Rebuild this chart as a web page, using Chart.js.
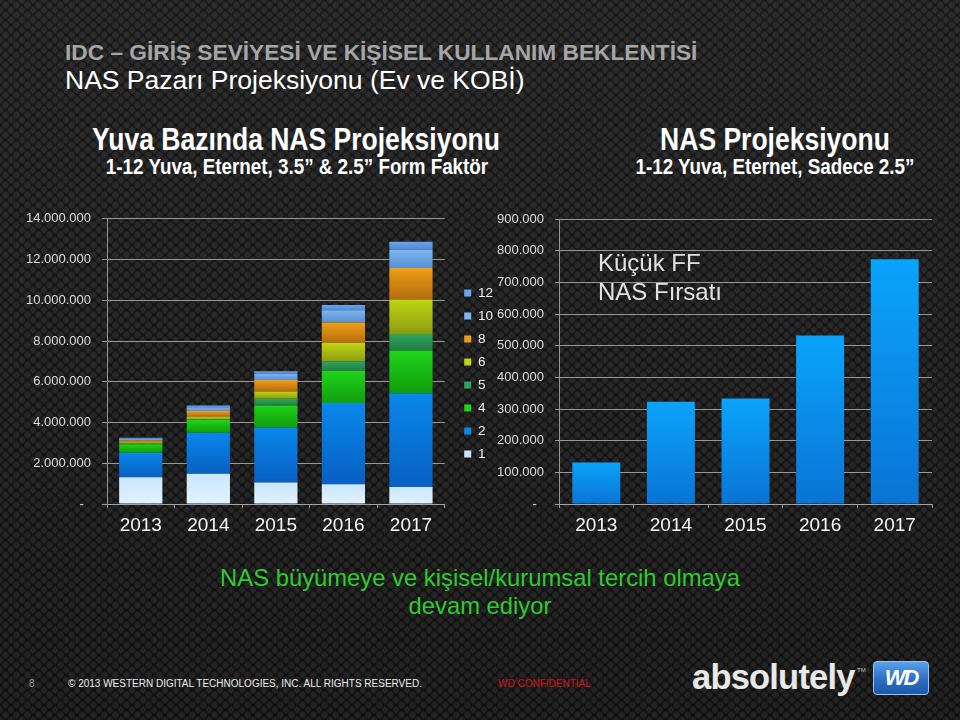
<!DOCTYPE html>
<html><head><meta charset="utf-8">
<script src="https://cdn.jsdelivr.net/npm/chart.js@4.4.1/dist/chart.umd.min.js"></script>
<style>
html,body{margin:0;padding:0;}
body{width:960px;height:720px;position:relative;overflow:hidden;
 background-color:#1e1e1e;
 background-image:
  linear-gradient(180deg, rgba(255,255,255,0.03), rgba(0,0,0,0.08)),
  radial-gradient(circle at 50% 50%, rgba(255,255,255,0.04) 0 3px, rgba(0,0,0,0.25) 4px 5px, transparent 5.5px),
  radial-gradient(circle at 50% 50%, rgba(255,255,255,0.04) 0 3px, rgba(0,0,0,0.25) 4px 5px, transparent 5.5px);
 background-size: 960px 720px, 11px 10px, 11px 10px;
 background-position: 0 0, 0 0, 5.5px 5px;
 font-family:'Liberation Sans', Arial, sans-serif;}
.t{position:absolute;white-space:nowrap;line-height:1;}
.c{transform:translateX(-50%);text-align:center;}
.n{transform:translateX(-50%) scaleX(0.855);transform-origin:50% 50%;text-align:center;font-weight:bold;color:#ffffff;}
canvas{position:absolute;}
</style></head><body>
<div class="t" style="left:65px;top:41px;font-weight:bold;font-size:22.7px;color:#a6a6a6;">IDC – GİRİŞ SEVİYESİ VE KİŞİSEL KULLANIM BEKLENTİSİ</div>
<div class="t" style="left:65px;top:67px;font-size:26.5px;color:#ffffff;">NAS Pazarı Projeksiyonu (Ev ve KOBİ)</div>

<div class="t n" style="left:296px;top:124px;font-size:31px;">Yuva Bazında NAS Projeksiyonu</div>
<div class="t n" style="left:297px;top:156px;font-size:22px;">1-12 Yuva, Eternet, 3.5” &amp; 2.5” Form Faktör</div>
<div class="t n" style="left:775px;top:124px;font-size:31px;">NAS Projeksiyonu</div>
<div class="t n" style="left:775px;top:156px;font-size:22px;">1-12 Yuva, Eternet, Sadece 2.5”</div>

<canvas id="left" width="503" height="342" style="left:0px;top:200px;width:503px;height:342px;"></canvas>
<canvas id="right" width="490" height="342" style="left:460px;top:200px;width:490px;height:342px;"></canvas>

<div class="t" style="left:598px;top:248px;font-size:24px;line-height:29px;color:#e2e2e2;">Küçük FF<br>NAS Fırsatı</div>

<div class="t c" style="left:480px;top:564px;font-size:23.8px;line-height:28px;color:#2fcb2f;">NAS büyümeye ve kişisel/kurumsal tercih olmaya<br>devam ediyor</div>

<div class="t" style="left:29px;top:679px;font-size:10px;color:#9a9a9a;">8</div>
<div class="t" style="left:68px;top:679px;font-size:10px;color:#ececec;">© 2013 WESTERN DIGITAL TECHNOLOGIES, INC. ALL RIGHTS RESERVED.</div>
<div class="t" style="left:498px;top:679px;font-size:10px;color:#d21414;">WD CONFIDENTIAL</div>
<div class="t" style="left:692px;top:660px;font-weight:bold;font-size:34.5px;letter-spacing:-0.8px;color:#e8e8e8;">absolutely</div>
<div class="t" style="left:857px;top:667px;font-size:6px;color:#cccccc;">TM</div>
<div style="position:absolute;left:873px;top:661px;width:56px;height:34px;border-radius:4px;border:1px solid #9cc4f0;background:linear-gradient(180deg,#5aa0ea,#2c6fc4 55%,#1d58a8);box-sizing:border-box;color:#fff;font:italic bold 22px 'Liberation Sans',Arial;text-align:center;line-height:32px;letter-spacing:-2px;">WD</div>

<script>
// ---- data ----
const years = ['2013', '2014', '2015', '2016', '2017'];
const bayLabels = ['1', '2', '4', '5', '6', '8', '10', '12'];
const bay1  = [1310000, 1490000, 1050000,  970000,  840000];
const bay2  = [1210000, 2010000, 2700000, 3990000, 4600000];
const bay4  = [ 410000,  620000, 1090000, 1570000, 2100000];
const bay5  = [  30000,   30000,  330000,  480000,  810000];
const bay6  = [  70000,  150000,  350000,  890000, 1690000];
const bay8  = [  90000,  260000,  570000, 1010000, 1540000];
const bay10 = [  90000,  190000,  300000,  600000,  900000];
const bay12 = [  40000,   80000,  130000,  260000,  390000];
const smallFF = [131000, 323000, 333000, 532000, 773000];
const leftTicksMax = 14000000, leftStep = 2000000;
const rightTicksMax = 900000, rightStep = 100000;

// ---- styles ----
const bayColors = [
  ['#c9e6fd', '#e2f2fe'],
  ['#0a88ec', '#0860c2'],
  ['#20d41a', '#119d0d'],
  ['#30a55c', '#227c46'],
  ['#bfd612', '#8c9c10'],
  ['#ee9e16', '#b46c0c'],
  ['#7cb6f3', '#5a8fd0'],
  ['#6aa6ec', '#4f86d0']
];
const ffColor = ['#0aa4fd', '#0a74d4'];
const gridCol = 'rgba(165,165,165,0.9)';
const tickCol = '#dcdcdc';

Chart.defaults.font.family = "'Liberation Sans', Arial, sans-serif";
Chart.defaults.animation = false;

function fmt(v) {
  if (v === 0) return '-\u00a0\u00a0';
  return String(v).replace(/\B(?=(\d{3})+(?!\d))/g, '.');
}

const bayData = [bay1, bay2, bay4, bay5, bay6, bay8, bay10, bay12];

function stackGrad(ctx) {
  const d = ctx.datasetIndex;
  const cols = bayColors[d];
  const chart = ctx.chart;
  if (ctx.type !== 'data' || !chart.chartArea || !chart.scales.y) return cols[0];
  const i = ctx.dataIndex;
  let base = 0;
  for (let k = 0; k < d; k++) base += bayData[k][i];
  const top = chart.scales.y.getPixelForValue(base + bayData[d][i]);
  const bot = chart.scales.y.getPixelForValue(base);
  if (!isFinite(top) || !isFinite(bot) || top === bot) return cols[0];
  const g = chart.ctx.createLinearGradient(0, top, 0, bot);
  g.addColorStop(0, cols[0]);
  g.addColorStop(1, cols[1]);
  return g;
}

function singleGrad(ctx) {
  const chart = ctx.chart;
  if (ctx.type !== 'data' || !chart.chartArea || !chart.scales.y) return ffColor[0];
  const top = chart.scales.y.getPixelForValue(smallFF[ctx.dataIndex]);
  const bot = chart.scales.y.getPixelForValue(0);
  const g = chart.ctx.createLinearGradient(0, top, 0, bot);
  g.addColorStop(0, ffColor[0]);
  g.addColorStop(1, ffColor[1]);
  return g;
}

const xTickFont = { size: 19, weight: 'normal' };

new Chart(document.getElementById('left'), {
  type: 'bar',
  data: {
    labels: years,
    datasets: bayLabels.map((lab, d) => ({
      label: lab,
      data: bayData[d],
      backgroundColor: stackGrad,
      borderWidth: 0,
      barPercentage: 0.64,
      categoryPercentage: 1.0
    }))
  },
  options: {
    responsive: false,
    animation: false,
    layout: { padding: { top: 15, bottom: 10, left: 0, right: 0 } },
    plugins: {
      tooltip: { enabled: false },
      legend: {
        position: 'right',
        reverse: true,
        labels: {
          color: '#f2f2f2',
          font: { size: 13.5 },
          boxWidth: 7,
          boxHeight: 7,
          padding: 9.5
        }
      }
    },
    scales: {
      x: {
        stacked: true,
        grid: { display: true, drawOnChartArea: false, drawTicks: true, tickLength: 4, color: gridCol },
        border: { display: true, color: gridCol, width: 1 },
        ticks: { color: '#f6f6f6', font: xTickFont, padding: 6 },
        afterFit(s) { s.height = 28; }
      },
      y: {
        stacked: true,
        min: 0, max: leftTicksMax,
        grid: { color: gridCol, tickLength: 5, lineWidth: 1 },
        border: { display: true, color: gridCol, width: 1 },
        ticks: { stepSize: leftStep, color: tickCol, font: { size: 13 }, padding: 11, callback: (v) => fmt(v) },
        afterFit(s) { s.width = 107; }
      },
      pad: {
        type: 'linear', position: 'right', display: true,
        grid: { display: false, drawTicks: false },
        ticks: { display: false },
        border: { display: false },
        afterFit(s) { s.width = 10; }
      }
    }
  }
});

new Chart(document.getElementById('right'), {
  type: 'bar',
  data: {
    labels: years,
    datasets: [{
      label: 'Küçük FF NAS',
      data: smallFF,
      backgroundColor: singleGrad,
      borderWidth: 0,
      barPercentage: 0.643,
      categoryPercentage: 1.0
    }]
  },
  options: {
    responsive: false,
    animation: false,
    layout: { padding: { top: 19, bottom: 10, left: 0, right: 18 } },
    plugins: { legend: { display: false }, tooltip: { enabled: false } },
    scales: {
      x: {
        grid: { display: true, drawOnChartArea: false, drawTicks: true, tickLength: 4, color: gridCol },
        border: { display: true, color: gridCol, width: 1 },
        ticks: { color: '#f6f6f6', font: xTickFont, padding: 6 },
        afterFit(s) { s.height = 28; }
      },
      y: {
        min: 0, max: rightTicksMax,
        grid: { color: gridCol, tickLength: 4, lineWidth: 1 },
        border: { display: true, color: gridCol, width: 1 },
        ticks: { stepSize: rightStep, color: tickCol, font: { size: 13 }, padding: 11, callback: (v) => fmt(v) },
        afterFit(s) { s.width = 99; }
      }
    }
  }
});
</script>
</body></html>
